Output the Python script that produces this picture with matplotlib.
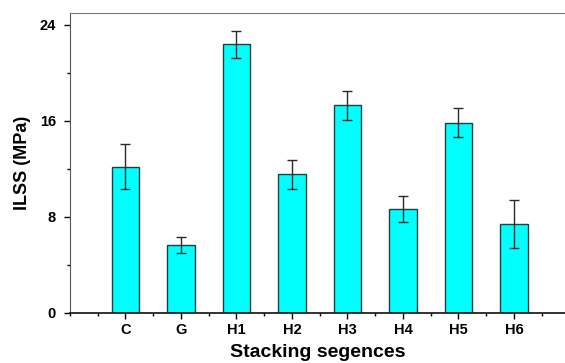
import matplotlib.pyplot as plt
from matplotlib.ticker import MultipleLocator

plt.rcParams['font.family'] = ['Liberation Sans', 'DejaVu Sans']
plt.rcParams['font.weight'] = 'bold'

labels = ['C', 'G', 'H1', 'H2', 'H3', 'H4', 'H5', 'H6']
ilss = [12.2, 5.7, 22.4, 11.55, 17.3, 8.65, 15.85, 7.45]
err = [1.9, 0.67, 1.13, 1.2, 1.22, 1.07, 1.21, 2.0]

fig = plt.figure(figsize=(5.65, 3.63), dpi=100)
ax = fig.add_axes([70 / 565, 50 / 363, 495 / 565, 300 / 363])

pos = list(range(1, len(labels) + 1))
ax.bar(pos, ilss, width=0.5, color='#00ffff', edgecolor='#1f3f3f', linewidth=1.0,
       yerr=err, capsize=3.5, error_kw=dict(ecolor='#2a2a2a', elinewidth=1.0, capthick=1.0))

ax.set_xlim(0, 8.92)
ax.set_ylim(0, 25)
ax.set_xticks(pos)
ax.set_xticklabels(labels)
ax.xaxis.set_minor_locator(MultipleLocator(0.5))
ax.yaxis.set_major_locator(MultipleLocator(8))
ax.yaxis.set_minor_locator(MultipleLocator(4))
ax.tick_params(axis='both', which='major', direction='out', length=4, width=1, labelsize=10.5)
ax.tick_params(axis='both', which='minor', direction='out', length=2.5, width=1)
ax.tick_params(axis='y', pad=6)
ax.tick_params(axis='x', pad=3)

ax.spines['right'].set_visible(False)
ax.spines['top'].set_color('#777777')
ax.spines['left'].set_color('#555555')
ax.spines['bottom'].set_color('#222222')
ax.spines['bottom'].set_linewidth(1.3)

ax.set_ylabel('ILSS (MPa)', fontsize=13, fontweight='bold', labelpad=6)
ax.set_xlabel('Stacking segences', fontsize=14, fontweight='bold', labelpad=5)

plt.savefig('out.png', dpi=100)
